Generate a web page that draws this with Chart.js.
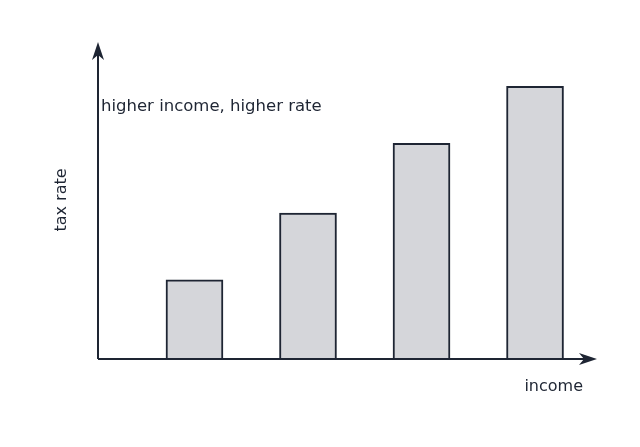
<!DOCTYPE html>
<html>
<head>
<meta charset="utf-8">
<script src="https://cdn.jsdelivr.net/npm/chart.js@4"></script>
<style>
  html, body { margin: 0; padding: 0; background: #fff; }
  #wrap { width: 640px; height: 447px; }
</style>
</head>
<body>
<div id="wrap"><canvas id="chart"></canvas></div>
<script>
// income brackets (positions along x) and tax rates
const brackets = [1, 2, 3, 4];
const taxRates = [25, 46, 68, 86];
const xLabel = 'income';
const yLabel = 'tax rate';
const note = 'higher income, higher rate';

const ink = '#1e2533';

// Draw arrow axes and text labels
const axesPlugin = {
  id: 'axes',
  afterDraw(chart) {
    const { ctx, chartArea: a } = chart;
    ctx.save();
    ctx.strokeStyle = ink;
    ctx.fillStyle = ink;
    ctx.lineWidth = 2;
    ctx.beginPath();
    ctx.moveTo(a.left, a.bottom);
    ctx.lineTo(a.right - 6, a.bottom);
    ctx.moveTo(a.left, a.bottom);
    ctx.lineTo(a.left, a.top + 6);
    ctx.stroke();
    // arrow heads
    ctx.beginPath();
    ctx.moveTo(a.right, a.bottom);
    ctx.lineTo(a.right - 18, a.bottom - 6);
    ctx.lineTo(a.right - 13, a.bottom);
    ctx.lineTo(a.right - 18, a.bottom + 6);
    ctx.closePath();
    ctx.fill();
    ctx.beginPath();
    ctx.moveTo(a.left, a.top);
    ctx.lineTo(a.left - 6, a.top + 18);
    ctx.lineTo(a.left, a.top + 13);
    ctx.lineTo(a.left + 6, a.top + 18);
    ctx.closePath();
    ctx.fill();

    ctx.font = '16.5px "DejaVu Sans"';
    ctx.textBaseline = 'middle';
    ctx.textAlign = 'left';
    ctx.fillText(note, a.left + 3, 107);
    ctx.font = '16px "DejaVu Sans"';
    ctx.textAlign = 'right';
    ctx.fillText(xLabel, 583, 387);
    ctx.translate(62, 200);
    ctx.rotate(-Math.PI / 2);
    ctx.textAlign = 'center';
    ctx.fillText(yLabel, 0, 0);
    ctx.restore();
  }
};

new Chart(document.getElementById('chart'), {
  type: 'bar',
  data: {
    datasets: [{
      data: brackets.map((b, i) => ({ x: b, y: taxRates[i] })),
      backgroundColor: '#d5d6da',
      borderColor: ink,
      borderWidth: 2,
      borderSkipped: 'bottom',
      barThickness: 57
    }]
  },
  options: {
    responsive: true,
    maintainAspectRatio: false,
    animation: false,
    layout: { padding: { left: 98, top: 42, right: 43, bottom: 88 } },
    scales: {
      x: { type: 'linear', min: 0.15, max: 4.546, offset: false, display: false },
      y: { min: 0, max: 100, display: false }
    },
    plugins: { legend: { display: false }, tooltip: { enabled: false } }
  },
  plugins: [axesPlugin]
});
</script>
</body>
</html>
